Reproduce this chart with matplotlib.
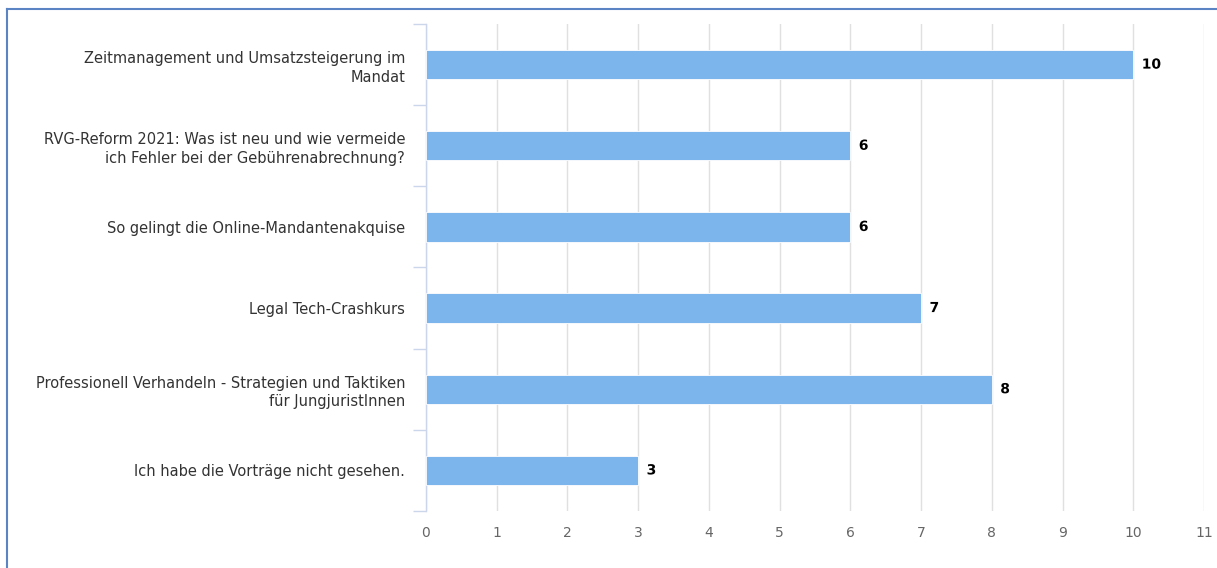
import matplotlib.pyplot as plt
import matplotlib.patheffects as pe
from matplotlib.lines import Line2D
import numpy as np

categories = [
    "Zeitmanagement und Umsatzsteigerung im\nMandat",
    "RVG-Reform 2021: Was ist neu und wie vermeide\nich Fehler bei der Gebührenabrechnung?",
    "So gelingt die Online-Mandantenakquise",
    "Legal Tech-Crashkurs",
    "Professionell Verhandeln - Strategien und Taktiken\nfür JungjuristInnen",
    "Ich habe die Vorträge nicht gesehen.",
]
values = [10, 6, 6, 7, 8, 3]
x_ticks = list(range(0, 12))

fig = plt.figure(figsize=(12.17, 5.68), dpi=100)
ax = fig.add_axes([0.350, 0.1004, 0.9893 - 0.350, 0.9577 - 0.1004])

y = np.arange(len(categories))
ax.barh(y, values, height=0.36, color="#7cb5ec", edgecolor="#ffffff", linewidth=0.6, zorder=3)

for yi, v in zip(y, values):
    ax.text(v + 0.12, yi, str(v), va="center", ha="left", fontsize=10,
            fontweight="bold", color="black", zorder=4,
            path_effects=[pe.withStroke(linewidth=2, foreground="white")])

ax.set_xlim(0, 11)
ax.set_ylim(len(categories) - 0.5, -0.5)
ax.set_xticks(x_ticks)
ax.set_xticklabels([str(t) for t in x_ticks], color="#666666", fontsize=10)
ax.tick_params(axis="x", length=0, pad=11)

ax.set_yticks(y)
ax.set_yticklabels(categories, color="#333333", fontsize=10.5, linespacing=1.3)
ax.tick_params(axis="y", which="major", length=0, pad=15)
ax.set_yticks(np.arange(-0.5, len(categories), 1.0), minor=True)
ax.tick_params(axis="y", which="minor", length=9.5, color="#ccd6eb", width=1)

ax.grid(axis="x", color="#e0e0e0", linewidth=1, zorder=0)
for s in ["top", "right", "bottom"]:
    ax.spines[s].set_visible(False)
ax.spines["left"].set_color("#ccd6eb")
ax.spines["left"].set_linewidth(1)

# screenshot border (top and left)
fig.add_artist(Line2D([7 / 1217, 1.0], [1 - 9 / 568, 1 - 9 / 568], color="#5b84c4", linewidth=1.5))
fig.add_artist(Line2D([7 / 1217, 7 / 1217], [0, 1 - 9 / 568], color="#5b84c4", linewidth=1.5))

fig.savefig("out.png", dpi=100)
